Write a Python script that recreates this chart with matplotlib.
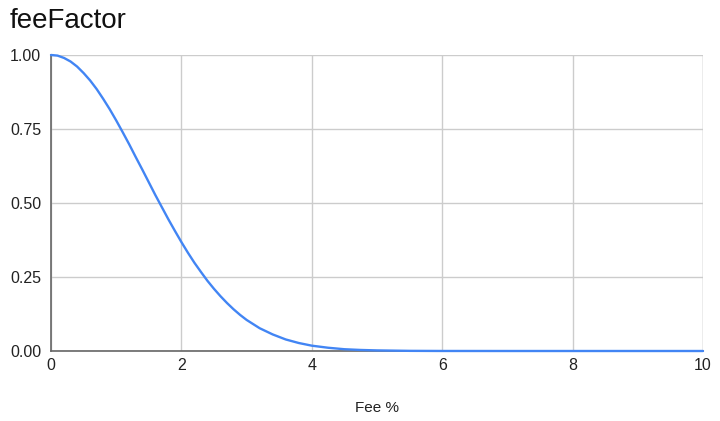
import matplotlib
matplotlib.use("Agg")
import matplotlib.pyplot as plt

fee_pct = [0.0, 0.1, 0.2, 0.3, 0.4, 0.5, 0.6, 0.7, 0.8, 0.9, 1.0, 1.1, 1.2, 1.3, 1.4,
           1.5, 1.6, 1.7, 1.8, 1.9, 2.0, 2.1, 2.2, 2.3, 2.4, 2.5, 2.6, 2.7, 2.8, 2.9,
           3.0, 3.2, 3.4, 3.6, 3.8, 4.0, 4.25, 4.5, 4.75, 5.0, 5.5, 6.0, 7.0, 8.0,
           9.0, 10.0]
fee_factor = [1.000, 0.998, 0.990, 0.978, 0.961, 0.939, 0.914, 0.885, 0.852, 0.817,
              0.779, 0.739, 0.698, 0.655, 0.613, 0.570, 0.527, 0.486, 0.445, 0.406,
              0.368, 0.332, 0.298, 0.267, 0.237, 0.210, 0.185, 0.162, 0.141, 0.122,
              0.105, 0.077, 0.056, 0.039, 0.027, 0.018, 0.011, 0.006, 0.0035, 0.002,
              0.0005, 0.0001, 0.0, 0.0, 0.0, 0.0]
x_ticks = [0, 2, 4, 6, 8, 10]
y_ticks = [0.0, 0.25, 0.5, 0.75, 1.0]
y_tick_labels = ["0.00", "0.25", "0.50", "0.75", "1.00"]

plt.rcParams['font.family'] = ['Liberation Sans', 'DejaVu Sans']

fig = plt.figure(figsize=(7.2, 4.21), dpi=100)
ax = fig.add_axes([51/720, 1 - 351/421, (703-51)/720, (351-55)/421])

ax.plot(fee_pct, fee_factor, color='#4285F4', lw=1.7, clip_on=False, zorder=3,
        solid_capstyle='round', solid_joinstyle='round')

ax.set_xlim(0, 10)
ax.set_ylim(0, 1)
ax.set_xticks(x_ticks)
ax.set_xticklabels([str(t) for t in x_ticks])
ax.set_yticks(y_ticks)
ax.set_yticklabels(y_tick_labels)
ax.grid(True, color='#cccccc', lw=1.0)
ax.set_axisbelow(True)
for s in ['top', 'right']:
    ax.spines[s].set_visible(False)
for s in ['left', 'bottom']:
    ax.spines[s].set_color('#666666')
    ax.spines[s].set_linewidth(1.2)
ax.tick_params(length=0, labelsize=11.5, colors='#222222', pad=5)
ax.tick_params(axis='y', pad=7)
ax.axvline(10, color='#cccccc', lw=1.0, zorder=0)

ax.set_xlabel("Fee %", fontsize=11, color='#222222', labelpad=20)
fig.text(10/720, 1 - 28/421, "feeFactor", fontsize=20, color='#111111', va='baseline')

fig.savefig("out.png", dpi=100, facecolor='white')
